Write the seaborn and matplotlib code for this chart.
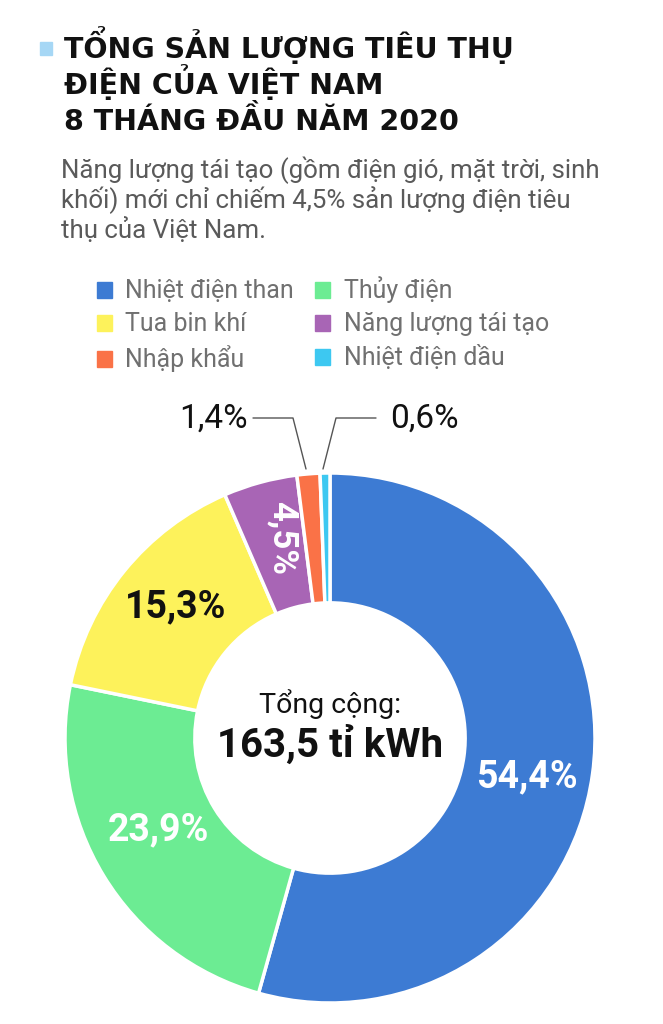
import matplotlib
matplotlib.use("Agg")
import matplotlib.pyplot as plt
import matplotlib.patches as mpatches
import seaborn as sns

# ---- data ----
categories = ["Nhiệt điện than", "Thủy điện", "Tua bin khí",
              "Năng lượng tái tạo", "Nhập khẩu", "Nhiệt điện dầu"]
shares = [54.4, 23.9, 15.3, 4.5, 1.4, 0.6]
share_labels = ["54,4%", "23,9%", "15,3%", "4,5%", "1,4%", "0,6%"]
colors = ["#3d7bd3", "#6cec93", "#fdf25b", "#a865b5", "#fa7247", "#3dc8f1"]

title_lines = ["TỔNG SẢN LƯỢNG TIÊU THỤ", "ĐIỆN CỦA VIỆT NAM", "8 THÁNG ĐẦU NĂM 2020"]
subtitle_lines = ["Năng lượng tái tạo (gồm điện gió, mặt trời, sinh",
                  "khối) mới chỉ chiếm 4,5% sản lượng điện tiêu",
                  "thụ của Việt Nam."]
center_top = "Tổng cộng:"
center_total = "163,5 tỉ kWh"

sns.set_theme(style="white")
plt.rcParams["font.family"] = ["Roboto", "DejaVu Sans"]

W, H = 663, 1024
fig = plt.figure(figsize=(W / 100, H / 100), dpi=100)
fig.patch.set_facecolor("white")

# pie axes: centre (330, 738) px, radius 265 px
cx, cy, R = 330, 738, 265
ax = fig.add_axes([(cx - R) / W, (H - cy - R) / H, 2 * R / W, 2 * R / H])
wedges, _ = ax.pie(shares, colors=colors, startangle=90, counterclock=False,
                   radius=1.0,
                   wedgeprops=dict(width=0.49, edgecolor="white", linewidth=2.5))
ax.set_xlim(-1, 1)
ax.set_ylim(-1, 1)
ax.set_aspect("equal")
ax.axis("off")

def px(x, y):
    return ((x - cx) / R, (cy - y) / R)

# in-wedge labels
lab_kw = dict(ha="center", va="center", fontweight="bold", fontsize=27)
ax.text(*px(527, 777), share_labels[0], color="white", **lab_kw)
ax.text(*px(158, 830), share_labels[1], color="white", **lab_kw)
ax.text(*px(176, 607), share_labels[2], color="#111111", **lab_kw)
ax.text(*px(282, 538), share_labels[3], color="white", rotation=-90,
        ha="center", va="center", fontweight="bold", fontsize=25)

# outside labels with leader lines
ax.text(*px(213, 419), share_labels[4], color="#111111", fontsize=24,
        ha="center", va="center", clip_on=False)
ax.text(*px(424, 419), share_labels[5], color="#111111", fontsize=24,
        ha="center", va="center", clip_on=False)
xs, ys = zip(px(253, 418), px(293, 418), px(306, 469))
ax.plot(xs, ys, color="#555555", lw=1, clip_on=False)
xs, ys = zip(px(376, 418), px(336, 418), px(323, 469))
ax.plot(xs, ys, color="#555555", lw=1, clip_on=False)

# centre text
ax.text(*px(330, 704), center_top, ha="center", va="center", fontsize=20.5,
        color="#111111")
ax.text(*px(330, 745), center_total, ha="center", va="center", fontsize=29,
        fontweight="bold", color="#111111")

# title
fig.patches.append(mpatches.Rectangle((40 / W, 1 - 55 / H), 12 / W, 13 / H,
                                      transform=fig.transFigure,
                                      color="#a6d7f5"))
for i, line in enumerate(title_lines):
    fig.text(64 / W, 1 - (58 + 36 * i) / H, line, ha="left", va="baseline",
             fontsize=20.5, fontweight="bold", color="#111111",
             family=["DejaVu Sans"])

for i, line in enumerate(subtitle_lines):
    fig.text(61 / W, 1 - (170 + 30 * i) / H, line, ha="left", va="center",
             fontsize=18.6, color="#5a5a5a", fontweight="normal")

# legend (manually ordered so rows read across)
handles = [mpatches.Patch(color=c, label=l) for c, l in zip(colors, categories)]
order = [0, 2, 4, 1, 3, 5]
fig.legend([handles[i] for i in order], [categories[i] for i in order],
           ncol=2, loc="upper left", bbox_to_anchor=(74 / W, 1 - 254 / H),
           frameon=False, fontsize=18, labelcolor="#707070",
           handlelength=0.6, handleheight=0.6, handletextpad=0.55,
           columnspacing=0.85, labelspacing=0.36)

fig.savefig("out.png", dpi=100, facecolor="white")
